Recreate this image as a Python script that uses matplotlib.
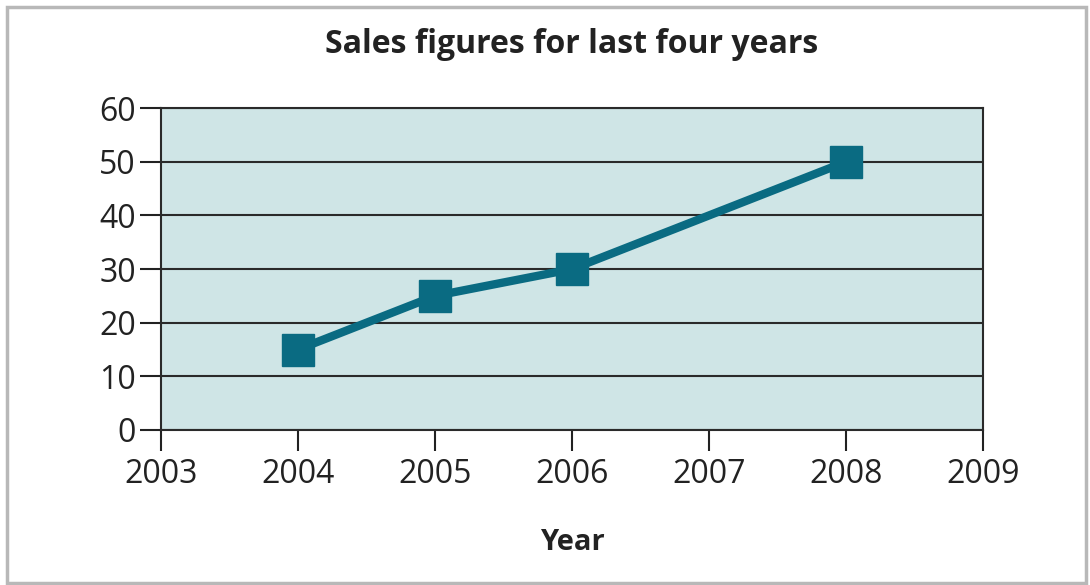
import matplotlib.pyplot as plt
from matplotlib.patches import Rectangle

# data
years = [2004, 2005, 2006, 2008]
sales = [15, 25, 30, 50]
xticks = [2003, 2004, 2005, 2006, 2007, 2008, 2009]
yticks = [0, 10, 20, 30, 40, 50, 60]

plt.rcParams['font.family'] = ['Open Sans', 'DejaVu Sans']

fig = plt.figure(figsize=(10.9, 5.85), dpi=100)
ax = fig.add_axes([0.1477, 0.265, 0.754, 0.550])

fig.patches.append(Rectangle((0.006, 0.004), 0.990, 0.984, transform=fig.transFigure,
                             fill=False, edgecolor='#b8b8b8', linewidth=2.5))

ax.set_facecolor('#cfe5e6')
ax.plot(years, sales, color='#0a6b82', linewidth=6, marker='s', markersize=23,
        zorder=3)

ax.set_xlim(2003, 2009)
ax.set_ylim(0, 60)
ax.set_xticks(xticks)
ax.set_yticks(yticks)
ax.yaxis.grid(True, color='#2a2a2a', linewidth=1.5)
ax.set_axisbelow(True)
ax.tick_params(axis='both', labelsize=23, colors='#222222', width=1.5, length=15,
               direction='out')
ax.tick_params(axis='y', pad=3)
ax.tick_params(axis='x', pad=5)
for s in ax.spines.values():
    s.set_color('#2a2a2a')
    s.set_linewidth(1.5)

ax.set_title('Sales figures for last four years', fontsize=23, fontweight='bold',
             color='#222222', pad=40)
ax.set_xlabel('Year', fontsize=21, fontweight='bold', color='#222222', labelpad=27)

fig.savefig('out.png', dpi=100)
